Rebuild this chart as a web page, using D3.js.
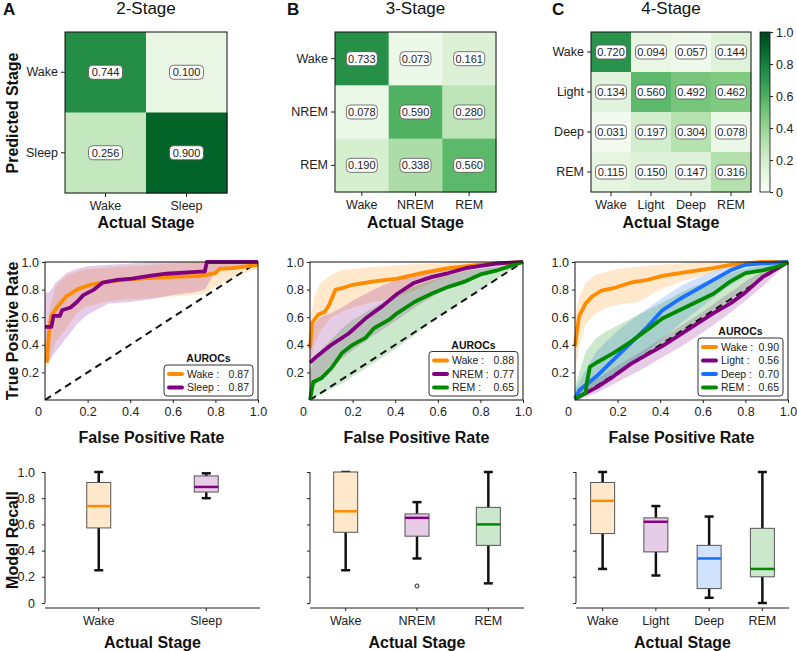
<!DOCTYPE html>
<html>
<head>
<meta charset="utf-8">
<script src="https://cdn.jsdelivr.net/npm/d3@7"></script>
<style>
  body { margin: 0; background: #fff; }
  text { font-family: "Liberation Sans", Arial, sans-serif; }
</style>
</head>
<body>
<script>
// ---------- data ----------
const stages2 = ["Wake", "Sleep"];
const stages3 = ["Wake", "NREM", "REM"];
const stages4 = ["Wake", "Light", "Deep", "REM"];

// confusion matrices (rows = predicted, cols = actual)
const conf2 = [[0.744, 0.100], [0.256, 0.900]];
const conf3 = [[0.733, 0.073, 0.161], [0.078, 0.590, 0.280], [0.190, 0.338, 0.560]];
const conf4 = [
  [0.720, 0.094, 0.057, 0.144],
  [0.134, 0.560, 0.492, 0.462],
  [0.031, 0.197, 0.304, 0.078],
  [0.115, 0.150, 0.147, 0.316]
];
const colorbarTicks = [0, 0.2, 0.4, 0.6, 0.8, 1.0];

// ROC mean curves (fpr, tpr)
const rocA_wake = [[0.008,0.27],[0.02,0.51],[0.03,0.61],[0.06,0.68],[0.10,0.75],[0.15,0.80],[0.21,0.835],[0.30,0.86],[0.41,0.876],[0.57,0.89],[0.73,0.90],[0.80,0.92],[0.82,0.95],[0.88,0.955],[1.0,0.98]];
const rocA_sleep = [[0.0,0.53],[0.03,0.53],[0.04,0.61],[0.07,0.61],[0.08,0.65],[0.12,0.67],[0.15,0.71],[0.18,0.76],[0.23,0.80],[0.27,0.85],[0.34,0.87],[0.41,0.88],[0.49,0.90],[0.57,0.915],[0.73,0.93],[0.75,0.93],[0.76,1.0],[1.0,1.0]];
const rocB_wake = [[0.0,0.375],[0.01,0.56],[0.04,0.62],[0.07,0.64],[0.09,0.69],[0.12,0.80],[0.15,0.81],[0.20,0.835],[0.30,0.86],[0.41,0.88],[0.54,0.925],[0.65,0.955],[0.80,0.98],[1.0,1.0]];
const rocB_nrem = [[0.0,0.27],[0.02,0.30],[0.10,0.40],[0.18,0.48],[0.26,0.59],[0.34,0.68],[0.41,0.77],[0.49,0.85],[0.57,0.89],[0.65,0.92],[0.73,0.955],[0.88,0.99],[1.0,1.0]];
const rocB_rem = [[0.0,0.0],[0.015,0.13],[0.055,0.16],[0.10,0.23],[0.15,0.34],[0.20,0.40],[0.26,0.45],[0.30,0.52],[0.37,0.58],[0.41,0.63],[0.49,0.71],[0.57,0.77],[0.65,0.82],[0.73,0.86],[0.80,0.91],[0.88,0.94],[1.0,1.0]];
const rocC_wake = [[0.0,0.39],[0.01,0.51],[0.02,0.61],[0.05,0.70],[0.08,0.75],[0.12,0.79],[0.18,0.81],[0.26,0.85],[0.34,0.87],[0.41,0.90],[0.49,0.92],[0.65,0.955],[0.73,0.98],[0.88,1.0],[1.0,1.0]];
const rocC_light = [[0.0,0.01],[0.10,0.09],[0.18,0.17],[0.26,0.26],[0.34,0.33],[0.41,0.39],[0.49,0.47],[0.57,0.55],[0.65,0.63],[0.73,0.70],[0.80,0.78],[0.88,0.89],[1.0,1.0]];
const rocC_deep = [[0.0,0.01],[0.02,0.07],[0.10,0.17],[0.18,0.29],[0.26,0.41],[0.34,0.53],[0.41,0.65],[0.49,0.73],[0.57,0.80],[0.65,0.87],[0.73,0.94],[0.80,0.98],[0.88,0.99],[1.0,1.0]];
const rocC_rem = [[0.0,0.01],[0.05,0.05],[0.055,0.12],[0.07,0.24],[0.10,0.27],[0.18,0.34],[0.26,0.42],[0.34,0.51],[0.41,0.59],[0.49,0.65],[0.57,0.71],[0.65,0.77],[0.73,0.86],[0.80,0.92],[0.88,0.94],[0.96,0.97],[1.0,1.0]];

// confidence bands, sampled on a common fpr grid
const bandFpr = [0, 0.02, 0.05, 0.1, 0.15, 0.2, 0.3, 0.4, 0.5, 0.6, 0.7, 0.75, 0.8, 0.9, 1.0];
const bandA_wake_lo  = [0.20,0.30,0.42,0.52,0.63,0.68,0.72,0.73,0.74,0.75,0.76,0.77,0.82,0.90,0.95];
const bandA_wake_hi  = [0.45,0.65,0.82,0.90,0.93,0.95,0.96,0.97,0.98,0.99,1,1,1,1,1];
const bandA_sleep_lo = [0.27,0.28,0.35,0.45,0.55,0.62,0.70,0.71,0.73,0.76,0.78,0.80,0.93,0.97,1];
const bandA_sleep_hi = [0.78,0.78,0.85,0.92,0.95,0.97,0.98,0.99,1,1,1,1,1,1,1];
const bandB_wake_lo  = [0.27,0.40,0.50,0.60,0.64,0.67,0.71,0.74,0.80,0.87,0.92,0.94,0.96,0.98,1];
const bandB_wake_hi  = [0.55,0.75,0.85,0.91,0.94,0.95,0.965,0.975,0.985,0.99,1,1,1,1,1];
const bandB_nrem_lo  = [0.05,0.10,0.15,0.22,0.30,0.36,0.47,0.57,0.68,0.77,0.85,0.88,0.91,0.96,1];
const bandB_nrem_hi  = [0.50,0.55,0.60,0.63,0.67,0.72,0.80,0.87,0.92,0.95,0.97,0.98,0.99,1,1];
const bandB_rem_lo   = [0,0.02,0.04,0.08,0.12,0.17,0.27,0.37,0.48,0.60,0.70,0.75,0.80,0.90,1];
const bandB_rem_hi   = [0.20,0.30,0.36,0.44,0.52,0.58,0.67,0.76,0.83,0.88,0.92,0.94,0.95,0.97,1];
const bandC_wake_lo  = [0.20,0.40,0.55,0.63,0.67,0.69,0.71,0.80,0.86,0.90,0.95,0.97,0.98,1,1];
const bandC_wake_hi  = [0.60,0.75,0.85,0.91,0.93,0.95,0.97,0.98,0.99,1,1,1,1,1,1];
const bandC_light_lo = [0,0,0.02,0.05,0.09,0.13,0.21,0.30,0.39,0.49,0.60,0.66,0.72,0.85,1];
const bandC_light_hi = [0.03,0.06,0.10,0.15,0.20,0.25,0.34,0.44,0.54,0.64,0.75,0.80,0.86,0.95,1];
const bandC_deep_lo  = [0,0.02,0.05,0.10,0.15,0.20,0.30,0.43,0.56,0.68,0.80,0.85,0.90,0.96,1];
const bandC_deep_hi  = [0.08,0.13,0.22,0.35,0.43,0.50,0.62,0.73,0.83,0.90,0.96,0.98,0.99,1,1];
const bandC_rem_lo   = [0,0.01,0.04,0.10,0.15,0.19,0.28,0.38,0.49,0.60,0.70,0.75,0.80,0.90,1];
const bandC_rem_hi   = [0.10,0.20,0.35,0.45,0.50,0.54,0.62,0.70,0.78,0.85,0.90,0.93,0.95,0.98,1];

const auroc2 = [0.87, 0.87];
const auroc3 = [0.88, 0.77, 0.65];
const auroc4 = [0.90, 0.56, 0.70, 0.65];

// recall box stats: [whiskerLo, q1, median, q3, whiskerHi]
const box2 = [[0.25,0.573,0.74,0.92,1.0],[0.80,0.847,0.886,0.97,0.99]];
const box3 = [[0.25,0.54,0.70,1.0,1.0],[0.34,0.51,0.65,0.68,0.77],[0.15,0.44,0.60,0.73,1.0]];
const box4 = [[0.26,0.53,0.78,0.92,1.0],[0.21,0.39,0.62,0.65,0.74],[0.04,0.11,0.34,0.44,0.66],[0.0,0.20,0.26,0.57,1.0]];
const outliers3 = [{stage: "NREM", value: 0.13}];
const recallTicks = [0, 0.2, 0.4, 0.6, 0.8, 1.0];

const stageColor = {
  Wake: "#ff8c00", Sleep: "#800080", NREM: "#800080", Light: "#800080",
  Deep: "#1a6fff", REM: "#008a00"
};
const stageFill = {
  Wake: "#ffe8cc", Sleep: "#e6cce6", NREM: "#e6cce6", Light: "#e6cce6",
  Deep: "#d1e2ff", REM: "#cce8cc"
};

// ---------- setup ----------
const svg = d3.select("body").append("svg")
  .attr("width", 797)
  .attr("height", 651);

const fmt1 = d => d === 0 ? "0" : d3.format(".1f")(d);

function styleAxis(sel, size) {
  sel.selectAll("text").attr("font-size", size || 12).attr("fill", "#222")
    .attr("font-family", "'Liberation Sans', Arial, sans-serif");
  sel.selectAll("line").attr("stroke", "#222");
}

function boldLabel(x, y, txt, rotate) {
  const t = svg.append("text")
    .attr("text-anchor", "middle")
    .attr("font-size", 16)
    .attr("font-weight", "bold")
    .attr("fill", "#111")
    .text(txt);
  if (rotate) t.attr("transform", `translate(${x},${y}) rotate(-90)`);
  else t.attr("x", x).attr("y", y);
}

// ---------- row 1: confusion matrices ----------
const heatPanels = [
  { letter: "A", lx: 3, title: "2-Stage", labels: stages2, m: conf2, xr: [65, 227], yr: [32, 193], boxW: 34 },
  { letter: "B", lx: 287, title: "3-Stage", labels: stages3, m: conf3, xr: [335, 496], yr: [32, 192], boxW: 31 },
  { letter: "C", lx: 552, title: "4-Stage", labels: stages4, m: conf4, xr: [591, 751], yr: [32, 192], boxW: 31 }
];

const green = d3.scaleSequential(d3.interpolateGreens).domain([0, 1]);

heatPanels.forEach(p => {
  const x = d3.scaleBand().domain(p.labels).range(p.xr);
  const y = d3.scaleBand().domain(p.labels).range(p.yr);
  const g = svg.append("g");
  const cells = p.m.flatMap((row, i) => row.map((v, j) => ({ r: p.labels[i], c: p.labels[j], v })));

  g.selectAll("rect.cell").data(cells).join("rect")
    .attr("class", "cell")
    .attr("x", d => x(d.c))
    .attr("y", d => y(d.r))
    .attr("width", x.bandwidth() + 0.5)
    .attr("height", y.bandwidth() + 0.5)
    .attr("fill", d => green(d.v));

  const lab = g.selectAll("g.val").data(cells).join("g")
    .attr("class", "val")
    .attr("transform", d => `translate(${x(d.c) + x.bandwidth() / 2},${y(d.r) + y.bandwidth() / 2})`);
  lab.append("rect")
    .attr("x", -p.boxW / 2).attr("y", -7).attr("width", p.boxW).attr("height", 14)
    .attr("rx", 4)
    .attr("fill", "#fff").attr("stroke", "#555").attr("stroke-width", 0.8);
  lab.append("text")
    .attr("text-anchor", "middle").attr("dy", "0.36em")
    .attr("font-size", 11).attr("fill", "#222")
    .text(d => d.v.toFixed(3));

  g.append("rect")
    .attr("x", p.xr[0]).attr("y", p.yr[0])
    .attr("width", p.xr[1] - p.xr[0]).attr("height", p.yr[1] - p.yr[0])
    .attr("fill", "none").attr("stroke", "#111").attr("stroke-width", 1);

  const ax = g.append("g").attr("transform", `translate(0,${p.yr[1]})`)
    .call(d3.axisBottom(x).tickSize(4).tickPadding(4));
  ax.select(".domain").remove();
  styleAxis(ax, 12.5);
  const ay = g.append("g").attr("transform", `translate(${p.xr[0]},0)`)
    .call(d3.axisLeft(y).tickSize(4).tickPadding(3));
  ay.select(".domain").remove();
  styleAxis(ay, 12.5);

  svg.append("text").attr("x", p.lx).attr("y", 15)
    .attr("font-size", 17).attr("font-weight", "bold").attr("fill", "#111").text(p.letter);
  svg.append("text").attr("x", (p.xr[0] + p.xr[1]) / 2).attr("y", 14)
    .attr("text-anchor", "middle").attr("font-size", 17).attr("fill", "#111").text(p.title);
  boldLabel((p.xr[0] + p.xr[1]) / 2, 228, "Actual Stage");
});
boldLabel(18, 113, "Predicted Stage", true);

// colorbar
const defs = svg.append("defs");
const grad = defs.append("linearGradient").attr("id", "greens")
  .attr("x1", 0).attr("y1", 1).attr("x2", 0).attr("y2", 0);
d3.range(0, 1.0001, 0.05).forEach(t => {
  grad.append("stop").attr("offset", t).attr("stop-color", green(t));
});
const cbY = d3.scaleLinear().domain([0, 1]).range([192, 32]);
svg.append("rect").attr("x", 760).attr("y", 32).attr("width", 10).attr("height", 160)
  .attr("fill", "url(#greens)").attr("stroke", "#111").attr("stroke-width", 0.8);
const cbAx = svg.append("g").attr("transform", "translate(770,0)")
  .call(d3.axisRight(cbY).tickValues(colorbarTicks).tickFormat(fmt1).tickSize(3).tickPadding(3));
cbAx.select(".domain").remove();
styleAxis(cbAx, 12.5);

// ---------- row 2: ROC curves ----------
const rocPanels = [
  { xr: [45, 258], legendBox: [164, 253], curves: [
    { name: "Wake", pts: rocA_wake, lo: bandA_wake_lo, hi: bandA_wake_hi },
    { name: "Sleep", pts: rocA_sleep, lo: bandA_sleep_lo, hi: bandA_sleep_hi }], auc: auroc2 },
  { xr: [310, 523], legendBox: [429, 518], curves: [
    { name: "Wake", pts: rocB_wake, lo: bandB_wake_lo, hi: bandB_wake_hi },
    { name: "NREM", pts: rocB_nrem, lo: bandB_nrem_lo, hi: bandB_nrem_hi },
    { name: "REM", pts: rocB_rem, lo: bandB_rem_lo, hi: bandB_rem_hi }], auc: auroc3 },
  { xr: [575, 788], legendBox: [698, 783], curves: [
    { name: "Wake", pts: rocC_wake, lo: bandC_wake_lo, hi: bandC_wake_hi },
    { name: "Light", pts: rocC_light, lo: bandC_light_lo, hi: bandC_light_hi },
    { name: "Deep", pts: rocC_deep, lo: bandC_deep_lo, hi: bandC_deep_hi },
    { name: "REM", pts: rocC_rem, lo: bandC_rem_lo, hi: bandC_rem_hi }], auc: auroc4 }
];
const rocTop = 262, rocBottom = 400;

rocPanels.forEach(p => {
  const x = d3.scaleLinear().domain([0, 1]).range(p.xr);
  const y = d3.scaleLinear().domain([0, 1]).range([rocBottom, rocTop]);
  const g = svg.append("g");
  const clipId = "clip" + p.xr[0];
  defs.append("clipPath").attr("id", clipId).append("rect")
    .attr("x", p.xr[0]).attr("y", rocTop).attr("width", p.xr[1] - p.xr[0]).attr("height", rocBottom - rocTop);
  const plot = g.append("g").attr("clip-path", `url(#${clipId})`);

  const area = d3.area()
    .x((d, i) => x(bandFpr[i]))
    .y0(d => y(d[0]))
    .y1(d => y(d[1]));
  p.curves.forEach(c => {
    plot.append("path")
      .datum(c.lo.map((v, i) => [v, c.hi[i]]))
      .attr("d", area)
      .attr("fill", stageColor[c.name])
      .attr("fill-opacity", 0.2);
  });

  plot.append("line")
    .attr("x1", x(0)).attr("y1", y(0)).attr("x2", x(1)).attr("y2", y(1))
    .attr("stroke", "#111").attr("stroke-width", 2).attr("stroke-dasharray", "7,5");

  const line = d3.line().x(d => x(d[0])).y(d => y(d[1]));
  p.curves.forEach(c => {
    g.append("path").datum(c.pts)
      .attr("d", line)
      .attr("fill", "none")
      .attr("stroke", stageColor[c.name])
      .attr("stroke-width", 3.8)
      .attr("stroke-linejoin", "round");
  });

  g.append("rect")
    .attr("x", p.xr[0]).attr("y", rocTop)
    .attr("width", p.xr[1] - p.xr[0]).attr("height", rocBottom - rocTop)
    .attr("fill", "none").attr("stroke", "#111").attr("stroke-width", 1);

  const ax = g.append("g").attr("transform", `translate(0,${rocBottom})`)
    .call(d3.axisBottom(x).tickValues([0, 0.2, 0.4, 0.6, 0.8, 1.0]).tickFormat(fmt1).tickSize(3).tickPadding(4));
  ax.select(".domain").remove();
  ax.selectAll(".tick").filter(d => d === 0).select("line").remove();
  ax.selectAll(".tick").filter(d => d === 0).select("text").attr("dx", -7);
  styleAxis(ax, 12.5);
  const ay = g.append("g").attr("transform", `translate(${p.xr[0]},0)`)
    .call(d3.axisLeft(y).tickValues([0.2, 0.4, 0.6, 0.8, 1.0]).tickFormat(fmt1).tickSize(3).tickPadding(3));
  ay.select(".domain").remove();
  styleAxis(ay, 12.5);

  // legend
  const n = p.curves.length;
  const bx0 = p.legendBox[0], bx1 = p.legendBox[1];
  const by1 = 396, by0 = by1 - (n * 13.5 + 4);
  const leg = g.append("g");
  leg.append("rect").attr("x", bx0).attr("y", by0).attr("width", bx1 - bx0).attr("height", by1 - by0)
    .attr("rx", 3).attr("fill", "#fff").attr("stroke", "#333").attr("stroke-width", 1);
  leg.append("text").attr("x", (bx0 + bx1) / 2).attr("y", by0 - 3)
    .attr("text-anchor", "middle").attr("font-size", 10.5).attr("font-weight", "bold").attr("fill", "#111")
    .text("AUROCs");
  p.curves.forEach((c, i) => {
    const yy = by0 + 9 + i * 13.5;
    leg.append("line").attr("x1", bx0 + 5).attr("x2", bx0 + 18).attr("y1", yy).attr("y2", yy)
      .attr("stroke", stageColor[c.name]).attr("stroke-width", 4).attr("stroke-linecap", "round");
    leg.append("text").attr("x", bx0 + 23).attr("y", yy).attr("dy", "0.35em")
      .attr("font-size", 10.5).attr("fill", "#222").text(c.name + " :");
    leg.append("text").attr("x", bx1 - 4).attr("y", yy).attr("dy", "0.35em")
      .attr("text-anchor", "end").attr("font-size", 10.5).attr("fill", "#222").text(p.auc[i].toFixed(2));
  });

  boldLabel((p.xr[0] + p.xr[1]) / 2, 443, "False Positive Rate");
});
boldLabel(18, 331, "True Positive Rate", true);

// ---------- row 3: recall box plots ----------
const boxPanels = [
  { xr: [45, 260], cats: stages2, stats: box2, out: [], showY: true },
  { xr: [310, 524], cats: stages3, stats: box3, out: outliers3, showY: false },
  { xr: [576, 789], cats: stages4, stats: box4, out: [], showY: false }
];
const ry = d3.scaleLinear().domain([0, 1]).range([603, 472]);
const boxW = 24, capW = 8;

boxPanels.forEach(p => {
  const x = d3.scaleBand().domain(p.cats).range(p.xr);
  const g = svg.append("g");
  const data = p.cats.map((c, i) => ({ c, s: p.stats[i] }));
  const bg = g.selectAll("g.box").data(data).join("g")
    .attr("class", "box")
    .attr("transform", d => `translate(${x(d.c) + x.bandwidth() / 2},0)`);

  // whiskers
  bg.append("line").attr("x1", 0).attr("x2", 0).attr("y1", d => ry(d.s[0])).attr("y2", d => ry(d.s[1]))
    .attr("stroke", "#111").attr("stroke-width", 2.5);
  bg.append("line").attr("x1", 0).attr("x2", 0).attr("y1", d => ry(d.s[3])).attr("y2", d => ry(d.s[4]))
    .attr("stroke", "#111").attr("stroke-width", 2.5);
  bg.append("line").attr("x1", -capW / 2 - 0.5).attr("x2", capW / 2 + 0.5).attr("y1", d => ry(d.s[0])).attr("y2", d => ry(d.s[0]))
    .attr("stroke", "#111").attr("stroke-width", 2.5);
  bg.append("line").attr("x1", -capW / 2 - 0.5).attr("x2", capW / 2 + 0.5).attr("y1", d => ry(d.s[4])).attr("y2", d => ry(d.s[4]))
    .attr("stroke", "#111").attr("stroke-width", 2.5);
  // box
  bg.append("rect")
    .attr("x", -boxW / 2).attr("width", boxW)
    .attr("y", d => ry(d.s[3])).attr("height", d => ry(d.s[1]) - ry(d.s[3]))
    .attr("fill", d => stageFill[d.c]).attr("stroke", "#555").attr("stroke-width", 1);
  // median
  bg.append("line").attr("x1", -boxW / 2).attr("x2", boxW / 2)
    .attr("y1", d => ry(d.s[2])).attr("y2", d => ry(d.s[2]))
    .attr("stroke", d => stageColor[d.c]).attr("stroke-width", 2.5);

  g.selectAll("circle.out").data(p.out).join("circle")
    .attr("class", "out")
    .attr("cx", d => x(d.stage) + x.bandwidth() / 2)
    .attr("cy", d => ry(d.value))
    .attr("r", 2)
    .attr("fill", "none").attr("stroke", "#222").attr("stroke-width", 1);

  // axes
  const ay = g.append("g").attr("transform", `translate(${p.xr[0]},0)`)
    .call(d3.axisLeft(ry).tickValues(recallTicks).tickFormat(p.showY ? fmt1 : () => "").tickSize(3).tickPadding(7));
  ay.select(".domain").attr("stroke", "#222").attr("d", `M0,${ry(1)}V${ry(0)}`);
  styleAxis(ay, 12.5);
  const ax = g.append("g").attr("transform", `translate(0,608)`)
    .call(d3.axisBottom(x).tickSize(3).tickPadding(5));
  ax.select(".domain").attr("stroke", "#222").attr("d", `M${p.xr[0]},0H${p.xr[1]}`);
  styleAxis(ax, 12.5);

  boldLabel((p.xr[0] + p.xr[1]) / 2, 648, "Actual Stage");
});
boldLabel(18, 540, "Model Recall", true);
</script>
</body>
</html>
